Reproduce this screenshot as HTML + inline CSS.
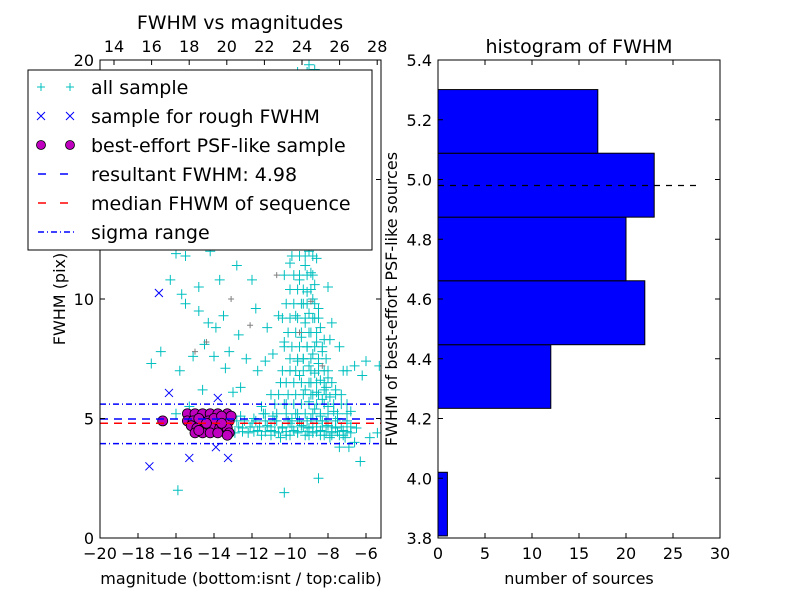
<!DOCTYPE html>
<html><head><meta charset="utf-8"><style>
body{margin:0;background:#fff}
svg{display:block;font-family:"DejaVu Sans","Liberation Sans",sans-serif}
</style></head><body>
<svg id="fig" width="800" height="600" viewBox="0 0 800 600">
<rect width="800" height="600" fill="#fff"/>
<g id="left"></g>
<g id="right"></g>
</svg>
<script>
const allSample=[[-9.0,19.8],[-8.7,19.6],[-9.3,18.5],[-8.9,17.8],[-9.1,17],[-8.6,16.5],[-9.2,16],[-8.8,15.5],[-9.0,15],[-8.5,14.6],[-9.3,14.2],[-8.9,13.8],[-9.1,13.3],[-8.7,13],[-9.4,12.6],[-8.8,12.3],[-9.0,12],[-8.6,11.7],[-9.2,11.4],[-8.9,11.1],[-9.5,10.8],[-8.7,10.6],[-9.1,10.3],[-8.8,10],[-9.3,9.8],[-8.5,9.6],[-9.0,9.4],[-8.7,9.2],[-9.2,9],[-8.4,8.8],[-8.9,8.6],[-9.4,8.4],[-8.6,8.2],[-9.1,8],[-8.3,7.8],[-8.8,7.7],[-9.3,7.5],[-8.5,7.3],[-9.0,7.2],[-8.2,7],[-8.7,6.9],[-9.5,6.8],[-8.4,6.6],[-8.9,6.5],[-8.1,6.3],[-9.2,6.2],[-8.6,6.1],[-7.9,5.9],[-8.3,5.8],[-9.0,5.7],[-8.0,5.5],[-8.7,5.4],[-7.7,5.3],[-9.6,5.2],[-8.4,5.1],[-7.5,5.0],[-8.8,6.0],[-8.0,6.7],[-7.6,6.2],[-8.2,8.3],[-9.7,9.3],[-10.0,11.5],[-9.8,13.5],[-8.0,10.5],[-7.8,9.0],[-8.1,12.8],[-9.6,7.4],[-7.3,6.0],[-7.0,5.6],[-6.8,5.3],[-7.2,7.0],[-6.6,7.2],[-6.2,6.8],[-6.0,7.4],
[-12.8,4.9],[-12.5,4.6],[-12.2,4.4],[-12.0,4.8],[-11.7,4.5],[-11.5,4.3],[-11.2,4.7],[-11.0,4.5],[-10.8,4.9],[-10.6,4.4],[-10.4,4.6],[-10.2,4.3],[-10.0,4.8],[-9.8,4.5],[-9.6,4.4],[-9.4,4.7],[-9.2,4.3],[-9.0,4.6],[-8.8,4.4],[-8.6,4.8],[-8.4,4.5],[-8.2,4.3],[-8.0,4.7],[-7.8,4.4],[-7.6,4.6],[-7.4,4.3],[-7.2,4.5],[-7.0,4.8],[-6.8,4.4],[-6.5,4.6],[-12.9,4.4],[-11.9,5.0],[-10.9,5.1],[-9.9,5.0],[-9.5,4.9],[-8.9,5.0],[-8.3,4.9],[-7.9,4.2],[-7.1,4.2],[-10.5,4.2],[-11.4,5.2],[-12.6,5.1],
[-16.0,11.9],[-15.5,11.8],[-14.2,12.0],[-13.5,12.3],[-12.5,13.0],[-11.4,13.2],[-10.8,14.0],[-12.0,10.8],[-13.7,10.8],[-14.8,10.5],[-15.7,10.2],[-16.8,7.8],[-17.3,7.3],[-14.8,9.5],[-14.3,9.0],[-13.9,8.8],[-13.5,9.3],[-12.7,8.5],[-13.2,7.8],[-12.3,7.5],[-11.3,7.4],[-14.0,7.6],[-15.1,7.6],[-15.8,7.0],[-14.6,6.2],[-13.0,6.1],[-15.3,5.5],[-16.0,5.2],[-11.2,8.8],[-10.6,9.3],[-10.3,8.2],[-10.9,7.7],[-11.7,7.0],[-10.5,6.5],[-11.0,6.0],[-10.0,7.0],[-10.2,5.6],[-11.5,5.5],[-14.5,8.1],[-13.4,7.1],[-15.5,9.8],[-12.8,11.4],[-16.3,10.8],[-14.9,12.4],[-7.4,8.0],[-7.0,7.0],[-6.9,3.8],[-6.6,4.0],[-7.4,3.8],[-6.3,3.2],[-8.5,2.5],[-10.3,1.9],[-15.9,2.0],[-5.8,4.2],[-5.4,4.4],[-5.3,7.2],[-7.9,8.3],[-8.2,6.2],[-12.6,6.3],[-11.8,9.6],[-13.2,14.5],[-12.9,15.8],[-10.2,17.1],[-9.9,18.8],[-8.2,18.9],[-11.0,16.0],[-7.5,15.5],[-8.0,14.0]];
// dense plume/band rows: one fwhm level per row, magnitudes observed along it
const plumeLevels=[19.5,18.5,17.5,16.5,15.5,14.5,13.5,12.5,11.8,11.0,10.4,9.8,9.2,8.6,8.0,7.5,7.0,6.5,6.0,5.6,5.2,4.9,4.65,4.45,4.3];
const plumeMags=[
[-9.6,-9.1],[-9.8,-9.4,-9.0],[-9.7,-9.3,-8.9],[-9.9,-9.5,-9.1],[-9.8,-9.4,-9.0,-8.7],[-9.9,-9.5,-9.2,-8.8],[-10.0,-9.6,-9.3,-8.9],[-10.1,-9.7,-9.4,-9.0,-8.7],[-9.9,-9.5,-9.2,-8.8],[-10.3,-9.8,-9.5,-9.1,-8.8],[-10.0,-9.6,-9.3,-8.9],[-10.2,-9.8,-9.4,-9.1,-8.7],[-10.4,-10.0,-9.6,-9.2,-8.8,-8.5],[-10.1,-9.7,-9.4,-9.0,-8.6],[-10.3,-9.9,-9.5,-9.1,-8.7,-8.3],[-10.0,-9.6,-9.3,-8.9,-8.5,-8.1],[-10.4,-10.0,-9.7,-9.3,-8.9,-8.5,-8.0],[-10.2,-9.8,-9.4,-9.0,-8.6,-8.2,-7.8],[-10.6,-10.1,-9.7,-9.3,-8.9,-8.5,-8.1,-7.6],[-10.8,-10.3,-9.8,-9.4,-9.0,-8.6,-8.2,-7.7,-7.3],[-11.3,-10.7,-10.2,-9.7,-9.2,-8.8,-8.4,-8.0,-7.5,-7.0],
[-12.4,-11.8,-11.3,-10.7,-10.1,-9.6,-9.1,-8.6,-8.1,-7.6,-7.0],[-12.7,-12.1,-11.6,-11.0,-10.4,-9.9,-9.3,-8.8,-8.3,-7.8,-7.3,-6.8],[-12.5,-11.9,-11.3,-10.8,-10.2,-9.6,-9.1,-8.6,-8.1,-7.5,-7.0],[-11.0,-10.0,-9.0,-8.4,-7.8,-7.2]];
const calibSample=[[-14.4,8.2],[-13.1,10.0],[-9.5,8.6],[-8.9,9.9],[-10.7,11.0],[-8.3,7.2],[-12.1,8.9],[-15.0,7.8]];
const roughSample=[[-16.9,10.25],[-16.37,6.07],[-13.8,5.86],[-13.9,3.8],[-15.3,3.35],[-13.26,3.35],[-17.4,3.0]];
const psfSample=[[-15.4,5.2],[-15.0,5.2],[-14.6,5.2],[-14.2,5.2],[-13.8,5.2],[-13.3,5.2],[-15.4,4.9],[-15.1,4.9],[-14.7,4.9],[-14.3,4.9],[-13.9,4.9],[-13.5,4.9],[-13.2,4.9],[-15.2,4.7],[-14.9,4.6],[-14.5,4.6],[-14.1,4.6],[-13.7,4.6],[-13.3,4.6],[-15.0,4.4],[-14.6,4.4],[-14.2,4.4],[-13.8,4.4],[-13.2,4.4],[-14.8,5.0],[-14.0,5.0],[-13.6,5.1],[-13.1,5.1],[-14.4,4.8],[-13.6,4.8],[-14.8,4.5],[-13.3,4.3],[-16.7,4.9]];
const resultFwhm=4.98, medianFwhm=4.8, sigmaLo=3.95, sigmaHi=5.6;
const binEdges=[3.807,4.02,4.234,4.447,4.661,4.874,5.088,5.301];
const binCounts=[1,0,12,22,20,23,17];
const xTicksL=[-20,-18,-16,-14,-12,-10,-8,-6], yTicksL=[0,5,10,15,20], topTicks=[14,16,18,20,22,24,26,28];
const xTicksR=[0,5,10,15,20,25,30], yTicksR=[3.8,4.0,4.2,4.4,4.6,4.8,5.0,5.2,5.4];

const NS="http://www.w3.org/2000/svg";
function mk(parent,tag,attrs,text){const e=document.createElementNS(NS,tag);for(const k in attrs)e.setAttribute(k,attrs[k]);if(text!==undefined)e.textContent=text;parent.appendChild(e);return e;}
const L=document.getElementById('left'),R=document.getElementById('right');
const xL=m=>100+(m+20)*19, yL=f=>538-f*23.9, xTop=v=>114+(v-14)*18.8;
const xR=c=>438+c*9.4, yR=v=>538-(v-3.8)*298.75;
const minus=v=>String(v).replace('-','\u2212');

mk(L,'defs',{}).innerHTML='<clipPath id="cl"><rect x="100" y="60" width="281" height="478"/></clipPath><clipPath id="cr"><rect x="438" y="60" width="282" height="478"/></clipPath>';
const pts=mk(L,'g',{'clip-path':'url(#cl)'});
function plus(g,x,y,c,s){mk(g,'path',{d:`M${x-s} ${y}H${x+s}M${x} ${y-s}V${y+s}`,stroke:c,'stroke-width':1,fill:'none'});}
allSample.forEach(p=>{const g=mk(pts,'g',{});


plus(g,xL(p[0]),yL(p[1]),'#00bfbf',5);});
plumeLevels.forEach((f,i)=>{plumeMags[i].forEach(m=>{const g=mk(pts,'g',{});


plus(g,xL(m),yL(f),'#00bfbf',5);});});
calibSample.forEach(p=>{const g=mk(pts,'g',{});


plus(g,xL(p[0]),yL(p[1]),'#808080',3);});
roughSample.forEach(p=>{const x=xL(p[0]),y=yL(p[1]);const g=mk(pts,'path',{d:`M${x-4} ${y-4}L${x+4} ${y+4}M${x-4} ${y+4}L${x+4} ${y-4}`,stroke:'#0000ff','stroke-width':1});

});
function hline(g,y,col,dash,name){const e=mk(g,'line',{x1:100,x2:381,y1:y,y2:y,stroke:col,'stroke-width':1.5,'stroke-dasharray':dash});

}
hline(pts,yL(sigmaHi),'#0000ff','6 3 1 3','sigma-upper-line');
hline(pts,yL(sigmaLo),'#0000ff','6 3 1 3','sigma-lower-line');
psfSample.forEach(p=>{const c=mk(pts,'circle',{cx:xL(p[0]),cy:yL(p[1]),r:5,fill:'#bf00bf',stroke:'#000','stroke-width':0.8});

});
hline(pts,yL(resultFwhm),'#0000ff','8 6','resultant-fwhm-line');
hline(pts,yL(medianFwhm),'#ff0000','8 6','median-fwhm-line');
mk(L,'rect',{x:100,y:60,width:281,height:478,fill:'none',stroke:'#000','stroke-width':1});
xTicksL.forEach(v=>{const x=xL(v);mk(L,'path',{d:`M${x} 538v-5`,stroke:'#000'});const t=mk(L,'text',{x:x,y:559,'text-anchor':'middle','font-size':16},minus(v));

});
yTicksL.forEach(v=>{const y=yL(v);mk(L,'path',{d:`M100 ${y}h5M381 ${y}h-5`,stroke:'#000'});const t=mk(L,'text',{x:94,y:y+6,'text-anchor':'end','font-size':16},v);

});
topTicks.forEach(v=>{const x=xTop(v);mk(L,'path',{d:`M${x} 60v5`,stroke:'#000'});const t=mk(L,'text',{x:x,y:52,'text-anchor':'middle','font-size':16},v);

});
mk(L,'text',{x:240,y:29,'text-anchor':'middle','font-size':19,},'FWHM vs magnitudes');
mk(L,'text',{x:241,y:584,'text-anchor':'middle','font-size':16,},'magnitude (bottom:isnt / top:calib)');
mk(L,'text',{x:0,y:0,transform:'translate(65 299) rotate(-90)','text-anchor':'middle','font-size':16,},'FWHM (pix)');

const lg=mk(L,'g',{});
mk(lg,'rect',{x:28,y:70,width:344,height:180,fill:'#fff',stroke:'#000','stroke-width':1});
const labels=['all sample','sample for rough FWHM','best-effort PSF-like sample','resultant FWHM: 4.98','median FHWM of sequence','sigma range'];
labels.forEach((s,i)=>{const y=87+i*29;const g=mk(lg,'g',{});


if(i==0){plus(g,41,y,'#00bfbf',4);plus(g,70,y,'#00bfbf',4);}
if(i==1){[41,70].forEach(x=>mk(g,'path',{d:`M${x-4} ${y-4}L${x+4} ${y+4}M${x-4} ${y+4}L${x+4} ${y-4}`,stroke:'#0000ff'}));}
if(i==2){[41,70].forEach(x=>mk(g,'circle',{cx:x,cy:y,r:4.5,fill:'#bf00bf',stroke:'#000','stroke-width':0.8}));}
if(i==3)mk(g,'line',{x1:38,x2:76,y1:y,y2:y,stroke:'#0000ff','stroke-width':1.5,'stroke-dasharray':'8 14'});
if(i==4)mk(g,'line',{x1:38,x2:76,y1:y,y2:y,stroke:'#ff0000','stroke-width':1.5,'stroke-dasharray':'8 14'});
if(i==5)mk(g,'line',{x1:38,x2:76,y1:y,y2:y,stroke:'#0000ff','stroke-width':1.5,'stroke-dasharray':'6 3 1 3'});
mk(g,'text',{x:91,y:y+7,'font-size':19},s);});

const bars=mk(R,'g',{'clip-path':'url(#cr)'});
binCounts.forEach((c,i)=>{if(!c)return;const y1=yR(binEdges[i+1]),y0=yR(binEdges[i]);const r=mk(bars,'rect',{x:xR(0),y:y1,width:xR(c)-xR(0),height:y0-y1,fill:'#0000ff',stroke:'#000','stroke-width':1});

});
const rl=mk(R,'line',{x1:xR(0),x2:xR(27.5),y1:yR(resultFwhm),y2:yR(resultFwhm),stroke:'#000','stroke-width':1.2,'stroke-dasharray':'6 6'});


mk(R,'rect',{x:438,y:60,width:282,height:478,fill:'none',stroke:'#000','stroke-width':1});
xTicksR.forEach(v=>{const x=xR(v);mk(R,'path',{d:`M${x} 538v-5M${x} 60v5`,stroke:'#000'});const t=mk(R,'text',{x:x,y:559,'text-anchor':'middle','font-size':16},v);

});
yTicksR.forEach(v=>{const y=yR(v);mk(R,'path',{d:`M438 ${y}h5M720 ${y}h-5`,stroke:'#000'});const t=mk(R,'text',{x:432,y:y+6,'text-anchor':'end','font-size':16},v.toFixed(1));

});
mk(R,'text',{x:579,y:53,'text-anchor':'middle','font-size':19,},'histogram of FWHM');
mk(R,'text',{x:579,y:584,'text-anchor':'middle','font-size':16,},'number of sources');
mk(R,'text',{x:0,y:0,transform:'translate(397 299) rotate(-90)','text-anchor':'middle','font-size':16,},'FWHM of best-effort PSF-like sources');
</script>
</body></html>
